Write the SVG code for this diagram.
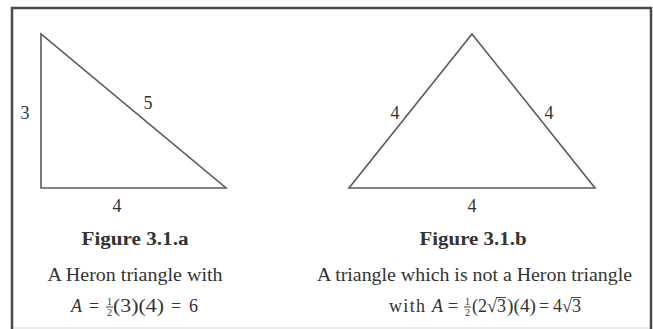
<svg xmlns="http://www.w3.org/2000/svg" width="653" height="329" viewBox="0 0 653 329">
  <style>
    .frame { stroke: #4a4a4a; stroke-width: 2.5; fill: none; }
    .tri { fill: none; stroke: #5a5a5a; stroke-width: 1.6; stroke-linejoin: miter; }
    .t { font-family: "Liberation Serif", "Times New Roman", serif; font-size: 18px; fill: #333; }
    .lbl { text-anchor: middle; }
    .b { font-weight: bold; }
    .i { font-style: italic; }
    .fr { font-family: "Liberation Serif", "Times New Roman", serif; font-size: 10px; fill: #333; text-anchor: middle; }
    .bar { stroke: #333; stroke-width: 0.9; }
  </style>
  <rect width="653" height="329" fill="#ffffff"/>
  <g id="frame">
    <line x1="13" y1="328" x2="650" y2="328" stroke="#e6e6e6" stroke-width="1.5"/>
    <polyline class="frame" points="12,329 12,8 651,8 651,329"/>
  </g>
  <g id="triangle-a">
    <polygon class="tri" points="41,34 41,188 226,188"/>
    <text class="t lbl" x="25" y="119">3</text>
    <text class="t lbl" x="148" y="109">5</text>
    <text class="t lbl" x="117" y="212">4</text>
  </g>
  <g id="triangle-b">
    <polygon class="tri" points="472,34 349,188 595,188"/>
    <text class="t lbl" x="395" y="119">4</text>
    <text class="t lbl" x="549" y="119">4</text>
    <text class="t lbl" x="472" y="212">4</text>
  </g>
  <g id="caption-a">
    <text class="t b lbl" x="135" y="245" textLength="107" lengthAdjust="spacingAndGlyphs">Figure 3.1.a</text>
    <text class="t lbl" x="135" y="281" textLength="175" lengthAdjust="spacingAndGlyphs">A Heron triangle with</text>
    <text class="t i" x="71" y="312">A</text>
    <text class="t" x="89" y="312">=</text>
    <text class="fr" x="109.5" y="305">1</text>
    <line class="bar" x1="106" y1="307" x2="113" y2="307"/>
    <text class="fr" x="109.5" y="316">2</text>
    <text class="t" x="113" y="312" textLength="51" lengthAdjust="spacingAndGlyphs">(3)(4)</text>
    <text class="t" x="171" y="312">=</text>
    <text class="t" x="189" y="312">6</text>
  </g>
  <g id="caption-b">
    <text class="t b lbl" x="473" y="245" textLength="107" lengthAdjust="spacingAndGlyphs">Figure 3.1.b</text>
    <text class="t lbl" x="474.5" y="281" textLength="315" lengthAdjust="spacingAndGlyphs">A triangle which is not a Heron triangle</text>
    <text class="t" x="389" y="312" textLength="36" lengthAdjust="spacing">with</text>
    <text class="t i" x="432" y="312">A</text>
    <text class="t" x="448" y="312">=</text>
    <text class="fr" x="467.5" y="305">1</text>
    <line class="bar" x1="464" y1="307" x2="471" y2="307"/>
    <text class="fr" x="467.5" y="316">2</text>
    <text class="t" x="472" y="312">(2</text>
    <text class="t" x="487" y="312">√</text>
    <text class="t" x="497" y="312">3</text>
    <line class="bar" x1="496" y1="297.5" x2="506" y2="297.5"/>
    <text class="t" x="507" y="312" textLength="29" lengthAdjust="spacingAndGlyphs">)(4)</text>
    <text class="t" x="539" y="312">=</text>
    <text class="t" x="553" y="312">4</text>
    <text class="t" x="562" y="312">√</text>
    <text class="t" x="572" y="312">3</text>
    <line class="bar" x1="571" y1="297.5" x2="581" y2="297.5"/>
  </g>
</svg>
